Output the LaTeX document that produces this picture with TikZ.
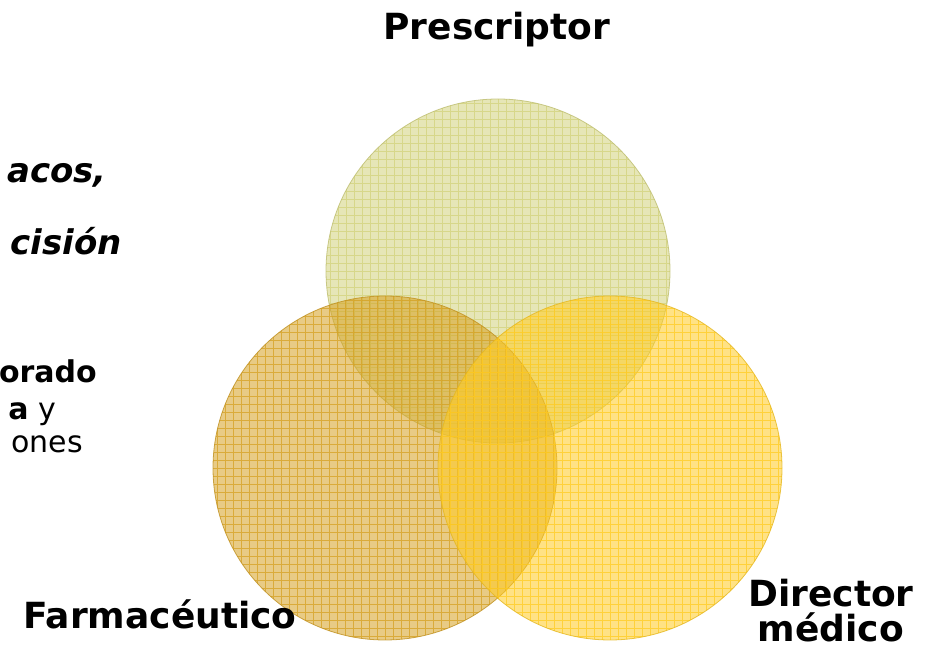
\documentclass[tikz,border=0pt]{standalone}
\usepackage{fontspec}
\setmainfont{DejaVu Sans}
\usepackage{tikz}
\usetikzlibrary{positioning}

\definecolor{prescol}{HTML}{D2D27B}
\definecolor{farmcol}{HTML}{D5A021}
\definecolor{dircol}{HTML}{FFCB21}

\tikzset{
  venn/.style={circle,minimum size=344bp,inner sep=0pt,
    draw=#1!90!black,draw opacity=0.8,line width=0.8bp,fill=#1,fill opacity=0.55,
    path picture={\draw[#1,line width=0.9bp,draw opacity=0.75]
      (path picture bounding box.south west) grid[step=8bp]
      (path picture bounding box.north east);}},
  lbl/.style={font=\fontsize{36bp}{40bp}\selectfont\bfseries,inner sep=0pt,align=center},
  side/.style={font=\fontsize{#1}{#1}\selectfont,inner sep=0pt,anchor=base east},
}

\begin{document}
\begin{tikzpicture}[>=latex,line join=bevel,]
\useasboundingbox (0bp,0bp) rectangle (930bp,651bp);
%%
\node (presc) at (498bp,380bp) [venn=prescol] {};
  \node (farm) at (385bp,183bp) [venn=farmcol] {};
  \node (dir) at (610bp,183bp) [venn=dircol] {};
%
\node (presclbl) at (497bp,611bp) [lbl,anchor=base] {Prescriptor};
  \node (farmlbl) at (160bp,23bp) [lbl,anchor=base] {Farmacéutico};
  \node (dirlbl) at (831bp,10bp) [lbl,anchor=base,font=\fontsize{36bp}{35bp}\selectfont\bfseries] {Director\\médico};
%
\node (txta) at (107bp,468bp) [side=34bp] {\bfseries\itshape acos,};
  \node (txtb) at (122bp,396bp) [side=34bp] {\bfseries\itshape cisión};
  \node (txtc) at (97bp,268bp) [side=30bp] {\bfseries orado};
  \node (txtd) at (56bp,231bp) [side=30bp] {\textbf{a} y};
  \node (txte) at (83bp,198bp) [side=30bp] {ones};
%
\end{tikzpicture}
\end{document}
